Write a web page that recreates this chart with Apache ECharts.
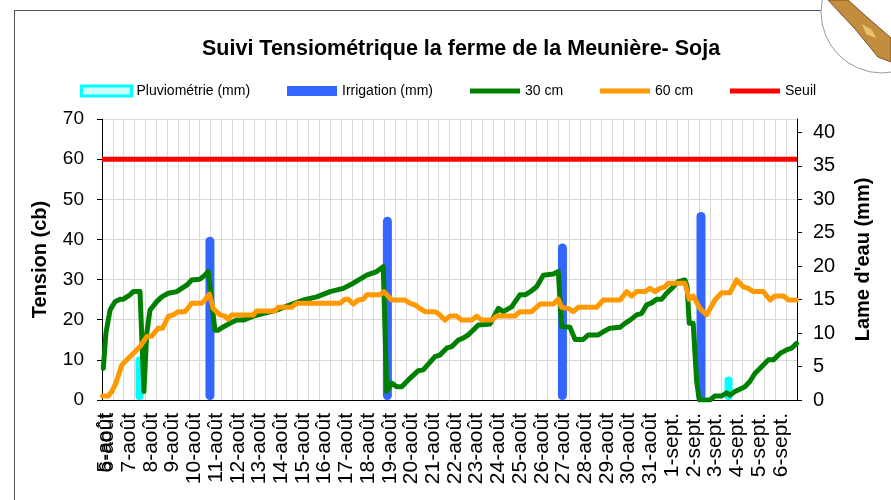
<!DOCTYPE html>
<html><head><meta charset="utf-8">
<script src="https://cdn.jsdelivr.net/npm/echarts@6/dist/echarts.min.js"></script>
<style>html,body{margin:0;padding:0;background:#fff}#c{width:891px;height:500px}</style>
</head><body><div id="c"></div>
<script>
// Day labels on the x axis (each day = 2 half-day bands)
const dayLabels = ['6-août','7-août','8-août','9-août','10-août','11-août','12-août','13-août','14-août','15-août','16-août','17-août','18-août','19-août','20-août','21-août','22-août','23-août','24-août','25-août','26-août','27-août','28-août','29-août','30-août','31-août','1-sept.','2-sept.','3-sept.','4-sept.','5-sept.','6-sept.'];
const firstLabel = '5-août';
const leftTicks = {min:0, max:70, interval:10};
const rightTicks = {min:0, max:42, interval:5};

// time in days from the axis start, value
const green30 = [[0.06,7.9],[0.18,16.6],[0.37,22.4],[0.60,24.5],[0.83,25.1],[0.98,25.1],[1.14,25.7],[1.29,26.2],[1.44,27.0],[1.75,27.0],[1.93,2.1],[2.06,16.6],[2.21,22.4],[2.52,24.5],[2.75,25.7],[3.05,26.6],[3.44,27.0],[3.90,28.6],[4.13,29.9],[4.51,30.1],[4.74,31.1],[4.89,32.0],[5.20,17.4],[5.35,17.4],[5.58,18.2],[5.89,19.1],[6.20,19.9],[6.51,19.9],[6.97,20.9],[8.04,22.4],[8.66,23.7],[9.27,24.9],[9.89,25.7],[10.50,27.0],[11.11,27.8],[11.57,29.1],[12.19,31.1],[12.65,32.0],[12.95,33.2],[13.11,2.1],[13.34,4.2],[13.57,3.3],[13.80,3.3],[14.18,5.4],[14.56,7.3],[14.79,7.5],[15.33,10.8],[15.56,11.2],[15.87,12.9],[16.10,13.3],[16.40,14.9],[16.63,15.4],[16.86,16.2],[17.33,18.7],[17.86,18.9],[18.25,22.8],[18.48,22.0],[18.86,23.2],[19.24,26.2],[19.48,26.2],[19.78,27.2],[20.01,28.2],[20.32,31.1],[20.78,31.4],[21.01,32.0],[21.16,18.3],[21.55,18.1],[21.78,15.1],[22.16,15.1],[22.39,16.2],[22.85,16.2],[23.08,17.0],[23.39,17.9],[23.85,18.1],[24.08,19.1],[24.31,19.9],[24.62,21.2],[24.85,21.6],[25.08,23.7],[25.31,24.2],[25.54,25.1],[25.77,25.1],[26.00,26.6],[26.23,27.8],[26.53,29.5],[26.84,29.9],[26.94,28.2],[27.04,19.1],[27.22,19.1],[27.38,4.6],[27.50,0],[27.99,0],[28.22,1.0],[28.53,1.0],[28.76,1.8],[28.91,1.2],[29.14,2.1],[29.37,2.7],[29.60,3.3],[29.83,4.6],[30.06,6.6],[30.45,8.7],[30.68,10.0],[30.91,10.0],[31.22,11.6],[31.52,12.5],[31.75,12.9],[31.98,14.1]];
const orange60 = [[0.03,1.0],[0.29,1.0],[0.45,2.1],[0.64,4.2],[0.91,8.7],[1.14,10.0],[1.44,11.6],[1.75,13.3],[2.06,15.8],[2.29,15.9],[2.59,17.9],[2.79,17.9],[3.05,20.8],[3.28,21.2],[3.51,22.0],[3.82,22.0],[4.13,24.1],[4.59,24.1],[4.74,24.9],[4.94,26.4],[5.12,22.8],[5.43,21.2],[5.66,20.9],[5.81,20.1],[5.97,21.2],[6.97,21.2],[7.12,22.2],[7.97,22.2],[8.12,23.1],[8.73,23.1],[8.96,24.1],[10.96,24.1],[11.19,25.1],[11.34,25.1],[11.57,23.9],[11.80,24.9],[12.03,25.1],[12.19,26.2],[12.80,26.2],[12.98,27.0],[13.34,24.9],[13.95,24.9],[14.18,24.1],[14.41,23.7],[14.64,22.8],[14.87,22.0],[15.33,22.0],[15.56,21.2],[15.79,19.9],[16.02,20.9],[16.33,20.9],[16.56,19.9],[17.02,19.9],[17.25,20.9],[17.48,19.9],[17.94,19.9],[18.17,20.9],[19.01,20.9],[19.24,22.0],[19.78,22.0],[20.17,23.9],[20.78,23.9],[21.01,25.1],[21.16,23.1],[21.47,22.8],[21.70,22.0],[21.93,23.1],[22.78,23.1],[23.08,24.9],[23.85,24.9],[24.16,27.0],[24.39,25.9],[24.62,27.0],[25.00,27.0],[25.23,27.8],[25.46,27.0],[25.69,27.8],[25.92,28.2],[26.07,29.1],[26.84,29.1],[27.04,25.1],[27.22,25.9],[27.53,22.8],[27.84,21.2],[28.22,24.9],[28.53,26.7],[28.91,26.7],[29.22,29.9],[29.53,28.2],[29.76,27.8],[29.99,27.0],[30.45,27.0],[30.76,24.9],[30.99,25.9],[31.38,25.9],[31.61,24.9],[31.98,24.9]];
const seuil = [[0,60],[32,60]];
const irrigation = [[4.97,24.4],[13.14,27.4],[21.20,23.4],[27.58,28.1]];
const pluvio = [[1.75,6.5],[28.87,3.5]];

const halfDays = [];
dayLabels.forEach(d => { halfDays.push(d); halfDays.push(d + ' ·'); });
const quarterDays = [];
halfDays.forEach(h => { quarterDays.push(h + ' a'); quarterDays.push(h + ' b'); });

const FONT = 'Liberation Sans, Arial, sans-serif';
const chart = echarts.init(document.getElementById('c'), null, {renderer:'canvas'});
function legendAt(name, left, h, extra) {
  return {show:true, left:left, top:84, padding:0, itemWidth:50, itemHeight:h, icon:'rect',
    data:[Object.assign({name:name}, extra||{})], textStyle:{fontSize:14, color:'#000', fontFamily:FONT}, selectedMode:false};
}
chart.setOption({
  animation:false,
  textStyle:{fontFamily:FONT},
  title:{text:'Suivi Tensiométrique la ferme de la Meunière- Soja', left:197, top:33,
    textStyle:{fontSize:21.5, fontWeight:'bold', color:'#000', fontFamily:FONT}},
  legend:[
    legendAt('Pluviométrie (mm)', 80, 10, {itemStyle:{color:'#ccffff', borderColor:'#00ffff', borderWidth:3}}),
    legendAt('Irrigation (mm)', 287, 10),
    legendAt('30 cm', 470, 5),
    legendAt('60 cm', 600, 5),
    legendAt('Seuil', 730, 5)
  ],
  grid:{left:102, right:94, top:119, bottom:100},
  xAxis:[
    {type:'category', data:halfDays, boundaryGap:true, position:'bottom',
      axisLine:{lineStyle:{color:'#000', width:1}},
      axisTick:{interval:0, length:6, lineStyle:{color:'#000'}},
      axisLabel:{interval:1, rotate:90, fontSize:21, color:'#000', margin:13, fontFamily:FONT},
      splitLine:{show:true, interval:0, lineStyle:{color:'#d9d9d9', width:1}}},
    {type:'category', data:quarterDays, boundaryGap:true, position:'bottom',
      axisLine:{show:false}, axisTick:{show:false}, splitLine:{show:false},
      axisLabel:{interval:function(i){return i===0;}, formatter:function(v,i){return i===0?firstLabel:'';},
        rotate:90, fontSize:21, color:'#000', margin:13, fontFamily:FONT}},
    {type:'value', min:0, max:32, show:false}
  ],
  yAxis:[
    {type:'value', min:leftTicks.min, max:leftTicks.max, interval:leftTicks.interval, position:'left',
      name:'Tension (cb)', nameLocation:'middle', nameRotate:90, nameGap:52,
      nameTextStyle:{fontSize:20, fontWeight:'bold', color:'#000', fontFamily:FONT},
      axisLine:{show:true, lineStyle:{color:'#000'}},
      axisTick:{show:true, length:5, lineStyle:{color:'#000'}},
      axisLabel:{fontSize:19, color:'#000', margin:18, fontFamily:FONT},
      splitLine:{show:true, lineStyle:{color:'#d9d9d9', width:1}}},
    {type:'value', min:rightTicks.min, max:rightTicks.max, interval:rightTicks.interval, position:'right',
      name:'Lame d\'eau (mm)', nameLocation:'middle', nameRotate:90, nameGap:56,
      nameTextStyle:{fontSize:20, fontWeight:'bold', color:'#000', fontFamily:FONT},
      axisLine:{show:true, lineStyle:{color:'#000'}},
      axisTick:{show:true, length:5, lineStyle:{color:'#000'}},
      axisLabel:{fontSize:20, color:'#000', margin:16, showMaxLabel:false, fontFamily:FONT},
      splitLine:{show:false}}
  ],
  series:[
    {name:'Pluviométrie (mm)', type:'bar', xAxisIndex:2, yAxisIndex:1, data:pluvio, barWidth:8,
      itemStyle:{color:'#00ffff', borderRadius:4}},
    {name:'Irrigation (mm)', type:'bar', xAxisIndex:2, yAxisIndex:1, data:irrigation, barWidth:9, barGap:'-100%',
      itemStyle:{color:'#3366ff', borderRadius:4.5}},
    {name:'30 cm', type:'line', xAxisIndex:2, yAxisIndex:0, data:green30, showSymbol:false,
      lineStyle:{color:'#008000', width:5, cap:'round', join:'round'}, itemStyle:{color:'#008000'}},
    {name:'60 cm', type:'line', xAxisIndex:2, yAxisIndex:0, data:orange60, showSymbol:false,
      lineStyle:{color:'#ff9900', width:5, cap:'round', join:'round'}, itemStyle:{color:'#ff9900'}},
    {name:'Seuil', type:'line', xAxisIndex:2, yAxisIndex:0, data:seuil, showSymbol:false,
      lineStyle:{color:'#ff0000', width:5}, itemStyle:{color:'#ff0000'}}
  ],
  graphic:[
    {type:'line', shape:{x1:14, y1:10.5, x2:822, y2:10.5}, style:{stroke:'#555', lineWidth:1}, silent:true},
    {type:'line', shape:{x1:14.5, y1:10, x2:14.5, y2:500}, style:{stroke:'#555', lineWidth:1}, silent:true},
    {type:'circle', shape:{cx:882, cy:12, r:61}, style:{fill:'#fff', stroke:'#999', lineWidth:1}, silent:true},
    {type:'polygon', shape:{points:[[828,0],[848,0],[868,18],[891,38],[891,62],[878,57],[856,30]]},
      style:{fill:'#c28d3e', stroke:'#7a5220', lineWidth:1}, silent:true},
    {type:'polygon', shape:{points:[[862,24],[872,30],[876,38],[866,34]]}, style:{fill:'#e8c56a'}, silent:true}
  ]
});
</script></body></html>
